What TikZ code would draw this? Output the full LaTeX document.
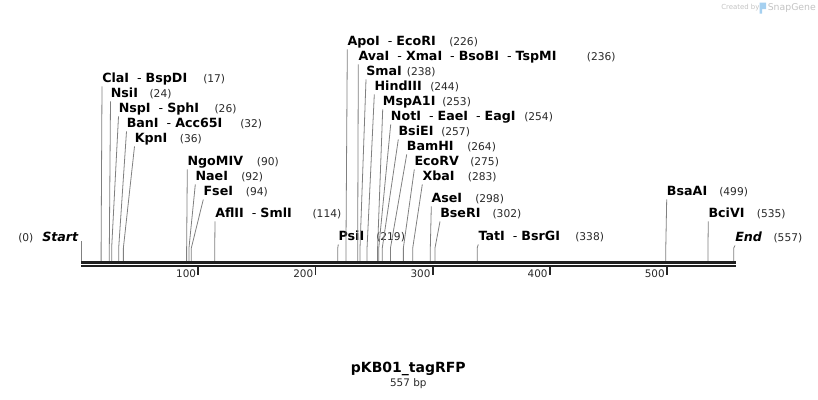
\documentclass[tikz,border=0pt]{standalone}
\usepackage{fontspec}
\setmainfont{DejaVu Sans}

\definecolor{leadgray}{RGB}{128,128,128}
\definecolor{numgray}{RGB}{40,40,40}
\definecolor{marklight}{RGB}{195,195,195}
\definecolor{markblue}{RGB}{165,208,240}

\newcommand{\enz}[1]{\textbf{#1}}
\newcommand{\cutsep}{\hspace{6pt}-\hspace{3pt}}

\tikzset{
    enzlabel/.style={anchor=west, inner xsep=0pt, inner ysep=1pt,
        font=\fontsize{9.5}{11}\selectfont, text height=7pt, text depth=1.8pt},
    poslabel/.style={anchor=west, inner sep=0pt,
        font=\fontsize{8}{10}\selectfont, text=numgray},
    leader/.style={draw=leadgray, line width=0.6pt},
    backbone/.style={line width=1.75pt, draw=black!88},
    ruler/.style={line width=1.3pt, draw=black!85},
}

\begin{document}
\begin{tikzpicture}[x=0.75pt, y=-0.75pt]
    \pgfmathsetmacro\zero{81.2};
    \pgfmathsetmacro\bpw{1.1715};
    \pgfmathsetmacro\kinky{248};
    \pgfmathsetmacro\topy{261};
    \useasboundingbox (0,0) rectangle (818,400);

    % cut sites: label x / label y / text / position / x of position
    \foreach \lx/\ly/\txt/\pos/\nx [count=\i] in {
        102/79/{\enz{ClaI}\cutsep\enz{BspDI}}/17/203,
        110.5/94/{\enz{NsiI}}/24/149.3,
        118.5/109/{\enz{NspI}\cutsep\enz{SphI}}/26/214.3,
        126.5/124/{\enz{BanI}\cutsep\enz{Acc65I}}/32/240,
        134.5/139/{\enz{KpnI}}/36/179.7,
        187.3/162/{\enz{NgoMIV}}/90/256.7,
        195.3/177/{\enz{NaeI}}/92/241,
        203.3/192/{\enz{FseI}}/94/245.7,
        215/214/{\enz{AflII}\cutsep\enz{SmlI}}/114/312.3,
        338.3/237/{\enz{PsiI}}/219/376,
        347.3/42/{\enz{ApoI}\cutsep\enz{EcoRI}}/226/449,
        358.3/57/{\enz{AvaI}\cutsep\enz{XmaI}\cutsep\enz{BsoBI}\cutsep\enz{TspMI}}/236/586.7,
        366/72/{\enz{SmaI}}/238/406.7,
        374.3/87/{\enz{HindIII}}/244/430,
        382.7/102/{\enz{MspA1I}}/253/442,
        390.7/117/{\enz{NotI}\cutsep\enz{EaeI}\cutsep\enz{EagI}}/254/524,
        398.3/132/{\enz{BsiEI}}/257/441,
        406.7/147/{\enz{BamHI}}/264/467,
        414.3/162/{\enz{EcoRV}}/275/470,
        422.3/177/{\enz{XbaI}}/283/467.7,
        431.3/199/{\enz{AseI}}/298/475,
        440/214/{\enz{BseRI}}/302/492.3,
        478.3/237/{\enz{TatI}\cutsep\enz{BsrGI}}/338/575,
        666.7/192/{\enz{BsaAI}}/499/719,
        708.3/214/{\enz{BciVI}}/535/756.7,
        735/238/{\textbf{\textit{End}}}/557/773.3}
    {
        \pgfmathsetmacro\sx{\zero + \pos * \bpw};
        \node[enzlabel] (enz\i) at (\lx, \ly) {\txt};
        \node[poslabel] (pos\i) at (\nx, \ly) {(\pos)};
        \coordinate (kink\i) at (\sx, \kinky);
        \coordinate (site\i) at (\sx, \topy);
        \draw[leader] (enz\i.south west) -- (kink\i) -- (site\i);
    }

    % start of the sequence
    \node[poslabel] (pos0) at (18, 238) {(0)};
    \node[enzlabel] (start) at (42, 238) {\textbf{\textit{Start}}};
    \coordinate (starttop) at (\zero, 241);
    \coordinate (startsite) at (\zero, \topy);
    \draw[leader] (starttop) -- (startsite);

    % backbone
    \coordinate (bbleft) at (\zero, 262.5);
    \coordinate (bbright) at (736, 262.5);
    \coordinate (bblefttwo) at (\zero, 266.2);
    \coordinate (bbrighttwo) at (736, 266.2);
    \draw[backbone] (bbleft) -- (bbright);
    \draw[backbone] (bblefttwo) -- (bbrighttwo);

    \foreach \t in {100,200,...,500} {
        \pgfmathsetmacro\tx{\zero + \t * \bpw};
        \coordinate (tick\t) at (\tx, 267);
        \coordinate (tickend\t) at (\tx, 275);
        \draw[ruler] (tick\t) -- (tickend\t);
        \node[anchor=east, inner sep=0pt, font=\fontsize{7.8}{9}\selectfont,
            text=numgray] (ticklab\t) at (\tx - 2, 273.5) {\t};
    }

    % name and size
    \node[font=\fontsize{10.5}{12}\selectfont\bfseries] (title) at (408.3, 369.3) {pKB01\_tagRFP};
    \node[font=\fontsize{7.8}{9}\selectfont, text=numgray] (size) at (408.3, 384) {557 bp};

    % watermark
    \node[anchor=west, inner sep=0pt, font=\fontsize{5.2}{6}\selectfont, text=marklight] (wmby) at (721, 8) {Created by};
    \fill[markblue] (759.5, 2.5) rectangle (766, 9) (759.5, 9) rectangle (762, 13.5);
    \node[anchor=west, inner sep=0pt, font=\fontsize{7}{8}\selectfont, text=marklight] (wmname) at (767.5, 8) {SnapGene};
\end{tikzpicture}
\end{document}
